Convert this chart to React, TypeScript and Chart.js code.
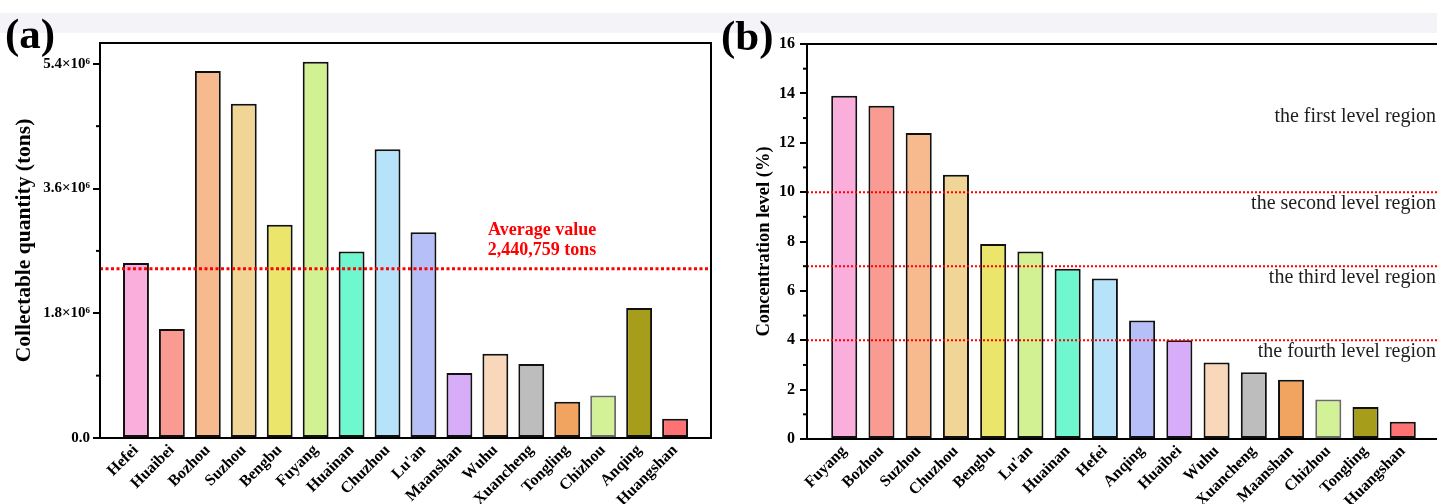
import React, { useEffect, useRef } from 'react';
import { Chart, registerables } from 'chart.js';

Chart.register(...registerables);

// ---------- data: panel (a) ----------
const citiesA = ['Hefei', 'Huaibei', 'Bozhou', 'Suzhou', 'Bengbu', 'Fuyang', 'Huainan', 'Chuzhou', "Lu'an", 'Maanshan', 'Wuhu', 'Xuancheng', 'Tongling', 'Chizhou', 'Anqing', 'Huangshan'];
const quantityA = [2525000, 1573000, 5296000, 4824000, 3078000, 5430000, 2690000, 4165000, 2970000, 938000, 1216000, 1068000, 524000, 615000, 1876000, 278000];
const averageA = 2440759;
const averageTextA = ['Average value', '2,440,759 tons'];
const yTicksA = [0, 1800000, 3600000, 5400000];
const yTickLabelsA = ['0.0', '1.8×10⁶', '3.6×10⁶', '5.4×10⁶'];
const yMinorA = [900000, 2700000, 4500000];
const yMaxA = 5700000;

// ---------- data: panel (b) ----------
const citiesB = ['Fuyang', 'Bozhou', 'Suzhou', 'Chuzhou', 'Bengbu', "Lu'an", 'Huainan', 'Hefei', 'Anqing', 'Huaibei', 'Wuhu', 'Xuancheng', 'Maanshan', 'Chizhou', 'Tongling', 'Huangshan'];
const levelB = [13.9, 13.5, 12.4, 10.7, 7.9, 7.6, 6.9, 6.5, 4.8, 4.0, 3.1, 2.7, 2.4, 1.6, 1.3, 0.7];
const thresholdsB = [10, 7, 4];
const regionLabelsB = ['the first level region', 'the second level region', 'the third level region', 'the fourth level region'];
const yTicksB = [0, 2, 4, 6, 8, 10, 12, 14, 16];
const yMinorB = [1, 3, 5, 7, 9, 11, 13, 15];
const yMaxB = 16;

// ---------- styling ----------
const palette = ['#F9AEDB', '#F99A93', '#F7BA8F', '#F1D596', '#EBE56C', '#D2F193', '#6FF7CF', '#B6E3F9', '#B7BFF8', '#D7ACF9', '#F9D7BA', '#BDBDBD', '#F0A460', '#D3F196', '#A69E1A', '#FD7272'];
const borders = palette.map((_, i) => (i === 13 ? '#6b6b6b' : '#111111'));
const SERIF = "'Liberation Serif', 'Times New Roman', Times, serif";

function frameAndMinor(minor: number[]) {
  return {
    id: 'frameAndMinor',
    afterDraw(chart: any) {
      const { ctx, chartArea: a } = chart;
      const y = chart.scales.y;
      ctx.save();
      ctx.strokeStyle = '#000';
      ctx.lineWidth = 2;
      ctx.setLineDash([]);
      ctx.strokeRect(a.left, a.top, a.right - a.left, a.bottom - a.top);
      for (const v of minor) {
        const py = y.getPixelForValue(v);
        ctx.beginPath();
        ctx.moveTo(a.left - 4, py);
        ctx.lineTo(a.left, py);
        ctx.stroke();
      }
      ctx.restore();
    },
  };
}

const averagePlugin = {
  id: 'averageA',
  afterDatasetsDraw(chart: any) {
    const { ctx, chartArea: a } = chart;
    const py = chart.scales.y.getPixelForValue(averageA);
    ctx.save();
    ctx.strokeStyle = '#ff0000';
    ctx.lineWidth = 3;
    ctx.setLineDash([3, 2.5]);
    ctx.beginPath();
    ctx.moveTo(a.left, py);
    ctx.lineTo(a.right, py);
    ctx.stroke();
    ctx.setLineDash([]);
    ctx.fillStyle = '#ff0000';
    ctx.font = `bold 18px ${SERIF}`;
    ctx.textAlign = 'center';
    ctx.textBaseline = 'alphabetic';
    const cx = chart.scales.x.getPixelForValue(12.3);
    ctx.fillText(averageTextA[0], cx, py - 34);
    ctx.fillText(averageTextA[1], cx, py - 14);
    ctx.restore();
  },
};

const regionBaselines = [12.83, 9.32, 6.33, 3.33];
const thresholdPlugin = {
  id: 'thresholdB',
  afterDatasetsDraw(chart: any) {
    const { ctx, chartArea: a } = chart;
    const y = chart.scales.y;
    ctx.save();
    ctx.strokeStyle = '#ff0000';
    ctx.lineWidth = 2;
    ctx.setLineDash([2, 2]);
    for (const t of thresholdsB) {
      const py = y.getPixelForValue(t);
      ctx.beginPath();
      ctx.moveTo(a.left, py);
      ctx.lineTo(a.right, py);
      ctx.stroke();
    }
    ctx.setLineDash([]);
    ctx.fillStyle = '#1e1e1e';
    ctx.font = `20px ${SERIF}`;
    ctx.textAlign = 'right';
    ctx.textBaseline = 'alphabetic';
    regionLabelsB.forEach((txt, i) => {
      ctx.fillText(txt, a.right - 4, y.getPixelForValue(regionBaselines[i]));
    });
    ctx.restore();
  },
};

function makeConfig(opts: {
  cities: string[];
  values: number[];
  yMax: number;
  yTicks: number[];
  yLabels: string[];
  minor: number[];
  title: string;
  titleSize: number;
  titlePad: number;
  yWidth: number;
  xHeight: number;
  padTop: number;
  padRight: number;
  barPct: number;
  tickSize: number;
  tickPad: number;
  extra: any;
}): any {
  const labels = ['', ...opts.cities, ''];
  return {
    type: 'bar',
    data: {
      labels,
      datasets: [
        {
          data: [null, ...opts.values, null],
          backgroundColor: ['#fff', ...palette, '#fff'],
          borderColor: ['#000', ...borders, '#000'],
          borderWidth: 2,
          borderSkipped: false,
          barPercentage: opts.barPct,
          categoryPercentage: 1,
        },
      ],
    },
    options: {
      animation: false,
      responsive: false,
      devicePixelRatio: 1,
      layout: { padding: { top: opts.padTop, right: opts.padRight, left: 0, bottom: 0 } },
      plugins: { legend: { display: false }, tooltip: { enabled: false }, title: { display: false } },
      scales: {
        x: {
          type: 'category',
          offset: false,
          grid: { display: false, drawTicks: false },
          border: { display: true, color: '#000', width: 2 },
          ticks: {
            autoSkip: false,
            minRotation: 45,
            maxRotation: 45,
            padding: 3,
            color: '#000',
            font: { family: SERIF, weight: 'bold', size: 16 },
          },
          afterFit: (s: any) => {
            s.height = opts.xHeight;
            s.paddingLeft = 0;
            s.paddingRight = 0;
          },
        },
        y: {
          min: 0,
          max: opts.yMax,
          afterBuildTicks: (s: any) => {
            s.ticks = opts.yTicks.map((v) => ({ value: v }));
          },
          ticks: {
            padding: opts.tickPad,
            color: '#000',
            font: { family: SERIF, weight: 'bold', size: opts.tickSize },
            callback: (v: any) => {
              const i = opts.yTicks.indexOf(Number(v));
              return i >= 0 ? opts.yLabels[i] : '';
            },
          },
          grid: { drawOnChartArea: false, drawTicks: true, tickLength: 7, color: '#000', lineWidth: 2 },
          border: { display: true, color: '#000', width: 2 },
          title: {
            display: true,
            text: opts.title,
            color: '#000',
            font: { family: SERIF, weight: 'bold', size: opts.titleSize, lineHeight: 1 },
            padding: { top: opts.titlePad, bottom: 0 },
          },
          afterFit: (s: any) => {
            s.width = opts.yWidth;
          },
        },
      },
    },
    plugins: [opts.extra, frameAndMinor(opts.minor)],
  };
}

function ChartBox({ config, left, width }: { config: () => any; left: number; width: number }) {
  const ref = useRef<HTMLCanvasElement | null>(null);
  useEffect(() => {
    if (!ref.current) return;
    const chart = new Chart(ref.current, config());
    return () => chart.destroy();
  }, []);
  return (
    <canvas
      ref={ref}
      width={width}
      height={504}
      style={{ position: 'absolute', left, top: 0, width, height: 504, display: 'block' }}
    />
  );
}

const configA = () =>
  makeConfig({
    cities: citiesA,
    values: quantityA,
    yMax: yMaxA,
    yTicks: yTicksA,
    yLabels: yTickLabelsA,
    minor: yMinorA,
    title: 'Collectable quantity (tons)',
    titleSize: 21.5,
    titlePad: 14,
    yWidth: 100,
    xHeight: 66,
    padTop: 43,
    padRight: 9,
    barPct: 0.72,
    tickSize: 15,
    tickPad: 3,
    extra: averagePlugin,
  });

const configB = () =>
  makeConfig({
    cities: citiesB,
    values: levelB,
    yMax: yMaxB,
    yTicks: yTicksB,
    yLabels: yTicksB.map(String),
    minor: yMinorB,
    title: 'Concentration level (%)',
    titleSize: 18.5,
    titlePad: 40,
    yWidth: 92,
    xHeight: 65,
    padTop: 44,
    padRight: 0,
    barPct: 0.7,
    tickSize: 16,
    tickPad: 5,
    extra: thresholdPlugin,
  });

export default function App() {
  return (
    <div
      style={{
        position: 'absolute',
        left: 0,
        top: 0,
        width: 1437,
        height: 504,
        overflow: 'hidden',
        background: '#ffffff',
      }}
    >
      <div style={{ position: 'absolute', left: 0, top: 13, width: 1437, height: 20, background: '#f4f4f8' }} />
      <ChartBox config={configA} left={0} width={720} />
      <ChartBox config={configB} left={715} width={725} />
      <div style={{ position: 'absolute', left: 5, top: 12, font: `bold 43px ${SERIF}`, lineHeight: 1, color: '#000' }}>
        (a)
      </div>
      <div style={{ position: 'absolute', left: 721, top: 14, font: `bold 43px ${SERIF}`, lineHeight: 1, color: '#000' }}>
        (b)
      </div>
    </div>
  );
}
